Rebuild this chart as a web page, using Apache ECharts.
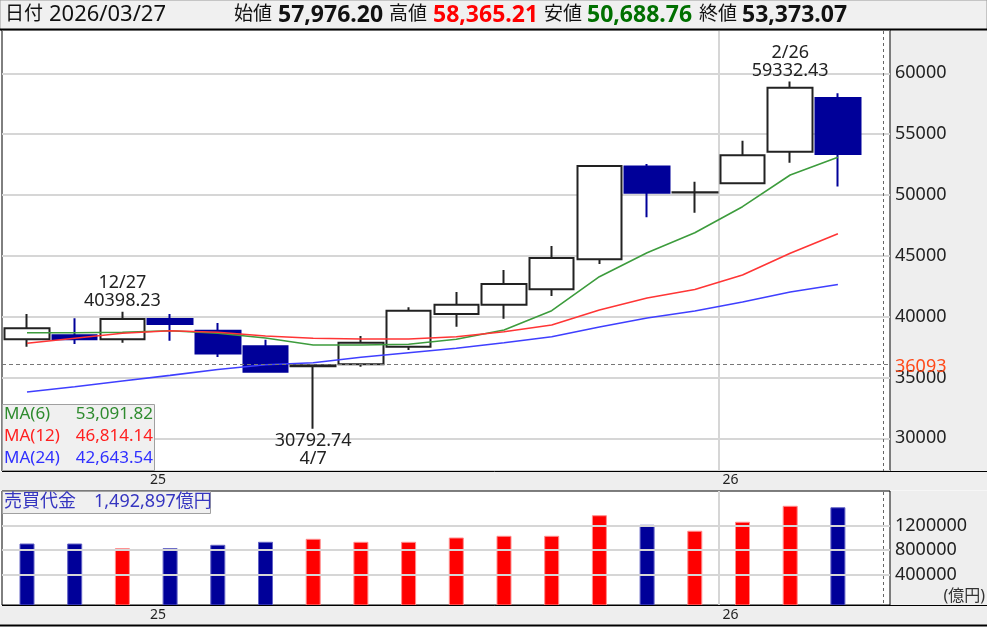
<!DOCTYPE html>
<html><head><meta charset="utf-8">
<script src="https://cdn.jsdelivr.net/npm/echarts@6/dist/echarts.min.js"></script>
<style>html,body{margin:0;padding:0;background:#fff}#c{width:987px;height:627px}</style>
</head><body><div id="c"></div>
<script>
// ---------- data ----------
const categories = ['2024/10','2024/11','2024/12','2025/01','2025/02','2025/03','2025/04','2025/05','2025/06',
  '2025/07','2025/08','2025/09','2025/10','2025/11','2025/12','2026/01','2026/02','2026/03'];
const opens  = [38140, 38470, 38140, 39800, 38840, 37560, 35920, 36080, 37530, 40220, 40980, 42250, 44710, 52330, 50200, 50960, 53560, 57976.20];
const closes = [39040, 38140, 39810, 39390, 36960, 35460, 36000, 37860, 40490, 40980, 42680, 44820, 52380, 50190, 50230, 53260, 58820, 53373.07];
const lows   = [37530, 37750, 37860, 38020, 36680, 35440, 30792.74, 35890, 37260, 39170, 39830, 41700, 44330, 48160, 48540, 50900, 52650, 50688.76];
const highs  = [40220, 39860, 40398.23, 40220, 39480, 38110, 36010, 38410, 40770, 42020, 43830, 45800, 52450, 52550, 51090, 54460, 59332.43, 58365.21];
const ma6  = [38679, 38679, 38712, 38844, 38630, 38250, 37668, 37668, 37726, 38137, 38901, 40488, 43282, 45255, 46898, 49035, 51641, 53091.82];
const ma12 = [37808, 38219, 38630, 38844, 38712, 38408, 38219, 38161, 38161, 38350, 38761, 39312, 40545, 41531, 42230, 43422, 45205, 46814.14];
const ma24 = [33805, 34241, 34709, 35170, 35655, 36041, 36214, 36657, 37035, 37397, 37857, 38350, 39148, 39887, 40463, 41203, 42024, 42643.54];
const vols = [901000, 901000, 825000, 825000, 880000, 929000, 978000, 929000, 929000, 999000, 1027000, 1027000, 1363000, 1207000, 1109000, 1256000, 1517000, 1492897];
const volUp = [false, false, true, false, false, false, true, true, true, true, true, true, true, false, true, true, true, false];
const volTicks = [400000, 800000, 1200000];
const refLevel = 36093;
const lastDate = '2026/03/27';
const highNotes = [{i: 2, date: '12/27'}, {i: 16, date: '2/26'}];
const lowNotes = [{i: 6, date: '4/7'}];
const priceMin = 27312, priceMax = 63559;
const volMin = -94700, volMax = 1766600;

// ---------- styling ----------
const FONT = '"Noto Sans", "Noto Sans CJK JP", sans-serif';
const BLUE = '#000099', RED = '#ff0000';
const GRIDC = '#d6d6d6';
const C_MA6 = '#3d9c3d', C_MA12 = '#ff3535', C_MA24 = '#3f3fff';
const fmt2 = v => v.toLocaleString('en-US', {minimumFractionDigits: 2, maximumFractionDigits: 2});
const last = categories.length - 1;
const isJan = (i, v) => String(v).endsWith('/01');

const catAxis = (gi, labelMargin) => ({
  gridIndex: gi, type: 'category', data: categories, boundaryGap: true,
  axisLine: {show: false}, axisTick: {show: false},
  axisLabel: {interval: isJan, formatter: v => v.slice(2, 4), align: 'right', padding: [0, 4, 0, 0],
    margin: labelMargin, fontSize: 14, color: '#222', fontFamily: FONT},
  splitLine: {show: true, interval: isJan, showMinLine: false, showMaxLine: false,
    lineStyle: {color: GRIDC, width: 2}}
});

const T = (x, y, text, o) => Object.assign({type: 'text', x, y, z: 100,
  style: Object.assign({text, fontFamily: FONT, fontSize: 18, fill: '#222',
    verticalAlign: 'middle', textVerticalAlign: 'middle'}, o || {})});

const option = {
  animation: false,
  backgroundColor: '#fff',
  textStyle: {fontFamily: FONT},
  grid: [
    {left: 2, top: 30, width: 888, height: 441, show: true, backgroundColor: '#fff', borderColor: '#000', borderWidth: 1},
    {left: 3.15, top: 30, width: 858.6, height: 441},
    {left: 2, top: 491, width: 888, height: 114, show: true, backgroundColor: '#fff', borderColor: '#000', borderWidth: 1},
    {left: 3.15, top: 491, width: 858.6, height: 114}
  ],
  xAxis: [
    {gridIndex: 0, type: 'value', min: 0, max: 1, show: false},
    catAxis(1, 2),
    {gridIndex: 2, type: 'value', min: 0, max: 1, show: false},
    catAxis(3, 3)
  ],
  yAxis: [
    {gridIndex: 0, type: 'value', position: 'right', min: priceMin, max: priceMax, minInterval: 5000, maxInterval: 5000,
      axisLine: {show: false}, axisTick: {show: false},
      axisLabel: {margin: 5, fontSize: 18, color: '#222', fontFamily: FONT, showMinLabel: false, showMaxLabel: false,
        formatter: v => String(v)},
      splitLine: {show: true, lineStyle: {color: GRIDC, width: 2}}},
    {gridIndex: 1, type: 'value', min: priceMin, max: priceMax, show: false},
    {gridIndex: 2, type: 'value', position: 'right', min: volMin, max: volMax, minInterval: 400000, maxInterval: 400000,
      axisLine: {show: false}, axisTick: {show: false}, splitLine: {show: false},
      axisLabel: {margin: 5, fontSize: 18, color: '#222', fontFamily: FONT, showMinLabel: false, showMaxLabel: false,
        formatter: v => volTicks.includes(v) ? String(v) : ''}},
    {gridIndex: 3, type: 'value', min: volMin, max: volMax, show: false}
  ],
  series: [
    {type: 'line', xAxisIndex: 0, yAxisIndex: 0, data: [], silent: true,
      markLine: {silent: true, symbol: ['none', 'none'], animation: false,
        data: [{yAxis: refLevel}],
        lineStyle: {type: [4, 3], color: '#777', width: 1},
        label: {show: true, position: 'end', formatter: String(refLevel), color: '#ff4a1a', fontSize: 18, fontFamily: FONT,
          distance: 5, offset: [0, 3]}}},
    {type: 'line', xAxisIndex: 2, yAxisIndex: 2, data: [], silent: true,
      markLine: {silent: true, symbol: ['none', 'none'], animation: false,
        data: volTicks.map(v => ({yAxis: v})),
        lineStyle: {type: 'solid', color: GRIDC, width: 2},
        label: {show: false}}},
    {type: 'candlestick', xAxisIndex: 1, yAxisIndex: 1, barWidth: 45,
      data: categories.map((c, i) => [opens[i], closes[i], lows[i], highs[i]]),
      itemStyle: {color: '#ffffff', color0: BLUE, borderColor: '#222', borderColor0: BLUE, borderWidth: 2},
      markPoint: {symbol: 'circle', symbolSize: 1, itemStyle: {color: 'rgba(0,0,0,0)'}, silent: true,
        label: {fontSize: 18, fontFamily: FONT, color: '#222', lineHeight: 18},
        data: highNotes.map(n => ({coord: [categories[n.i], highs[n.i]],
            label: {position: 'top', distance: 1, formatter: n.date + '\n' + highs[n.i].toFixed(2)}}))
          .concat(lowNotes.map(n => ({coord: [categories[n.i], lows[n.i]],
            label: {position: 'bottom', distance: 3, formatter: lows[n.i].toFixed(2) + '\n' + n.date}})))}},
    {type: 'line', xAxisIndex: 1, yAxisIndex: 1, data: ma6, symbol: 'none', lineStyle: {color: C_MA6, width: 1.6}},
    {type: 'line', xAxisIndex: 1, yAxisIndex: 1, data: ma12, symbol: 'none', lineStyle: {color: C_MA12, width: 1.6}},
    {type: 'line', xAxisIndex: 1, yAxisIndex: 1, data: ma24, symbol: 'none', lineStyle: {color: C_MA24, width: 1.6}},
    {type: 'custom', xAxisIndex: 3, yAxisIndex: 3, encode: {x: 0, y: 1},
      data: vols.map((v, i) => [i, v]),
      renderItem: (params, api) => {
        const top = api.coord([api.value(0), api.value(1)]);
        const cs = params.coordSys;
        const bottom = cs.y + cs.height;
        const w = 14, up = volUp[params.dataIndex];
        return {type: 'rect', shape: {x: top[0] - w / 2, y: top[1], width: w, height: bottom - top[1]},
          style: {fill: up ? RED : BLUE, stroke: up ? '#ff8c8c' : '#6262c4', lineWidth: 1}};
      }}
  ],
  graphic: {elements: [
    // panels / strips
    {type: 'rect', z: -1, shape: {x: 0, y: 0, width: 987, height: 30}, style: {fill: '#f0f0f0', stroke: '#9a9a9a', lineWidth: 1}},
    {type: 'line', z: 5, shape: {x1: 0, y1: 29.5, x2: 987, y2: 29.5}, style: {stroke: '#000', lineWidth: 2}},
    {type: 'rect', z: -1, shape: {x: 890.5, y: 30, width: 97, height: 441}, style: {fill: '#eeeeee'}},
    {type: 'rect', z: -1, shape: {x: 890.5, y: 491, width: 97, height: 114}, style: {fill: '#eeeeee'}},
    {type: 'rect', z: -1, shape: {x: 0, y: 471.5, width: 987, height: 19}, style: {fill: '#eeeeee'}},
    {type: 'rect', z: -1, shape: {x: 0, y: 605.5, width: 987, height: 19}, style: {fill: '#eeeeee'}},
    {type: 'line', z: 5, shape: {x1: 0, y1: 625.5, x2: 987, y2: 625.5}, style: {stroke: '#000', lineWidth: 2}},
    {type: 'line', z: 5, shape: {x1: 2, y1: 471.5, x2: 987, y2: 471.5}, style: {stroke: '#000', lineWidth: 1}},
    {type: 'line', z: 5, shape: {x1: 2, y1: 605.5, x2: 987, y2: 605.5}, style: {stroke: '#000', lineWidth: 1}},
    {type: 'line', z: 5, shape: {x1: 883.5, y1: 31, x2: 883.5, y2: 471}, style: {stroke: '#666', lineWidth: 1, lineDash: [3, 3]}},
    {type: 'line', z: 5, shape: {x1: 883.5, y1: 492, x2: 883.5, y2: 605}, style: {stroke: '#666', lineWidth: 1, lineDash: [3, 3]}},
    // header
    T(5, 15, '日付', {fontSize: 19, fill: '#111'}),
    T(49, 15, lastDate, {fontSize: 22, fill: '#111'}),
    T(234, 15, '始値', {fontSize: 19, fill: '#111'}),
    T(278, 15, fmt2(opens[last]), {fontSize: 23, fontWeight: 'bold', fill: '#111'}),
    T(389, 15, '高値', {fontSize: 19, fill: '#111'}),
    T(433, 15, fmt2(highs[last]), {fontSize: 23, fontWeight: 'bold', fill: '#ff0000'}),
    T(544, 15, '安値', {fontSize: 19, fill: '#111'}),
    T(587, 15, fmt2(lows[last]), {fontSize: 23, fontWeight: 'bold', fill: '#007000'}),
    T(699, 15, '終値', {fontSize: 19, fill: '#111'}),
    T(742, 15, fmt2(closes[last]), {fontSize: 23, fontWeight: 'bold', fill: '#111'}),
    // MA legend box
    {type: 'rect', z: 90, shape: {x: 2.5, y: 404.5, width: 152, height: 66}, style: {fill: '#f0f0f0', stroke: '#a0a0a0', lineWidth: 1}},
    T(4, 414, 'MA(6)', {fontSize: 17, fill: '#2e8b2e'}),
    T(153, 414, fmt2(ma6[last]), {fontSize: 17, fill: '#2e8b2e', align: 'right', textAlign: 'right'}),
    T(4, 436, 'MA(12)', {fontSize: 17, fill: '#ff2020'}),
    T(153, 436, fmt2(ma12[last]), {fontSize: 17, fill: '#ff2020', align: 'right', textAlign: 'right'}),
    T(4, 458, 'MA(24)', {fontSize: 17, fill: '#3030ff'}),
    T(153, 458, fmt2(ma24[last]), {fontSize: 17, fill: '#3030ff', align: 'right', textAlign: 'right'}),
    // volume legend box
    {type: 'rect', z: 90, shape: {x: 2.5, y: 491.5, width: 208, height: 22}, style: {fill: '#f0f0f0', stroke: '#a0a0a0', lineWidth: 1}},
    T(4, 502, '売買代金　' + vols[last].toLocaleString('en-US') + '億円', {fontSize: 18, fill: '#3535c0'}),
    T(985, 596, '(億円)', {fontSize: 16, fill: '#333', align: 'right', textAlign: 'right'})
  ]}
};

const chart = echarts.init(document.getElementById('c'), null, {renderer: 'canvas'});
chart.setOption(option);
</script></body></html>
